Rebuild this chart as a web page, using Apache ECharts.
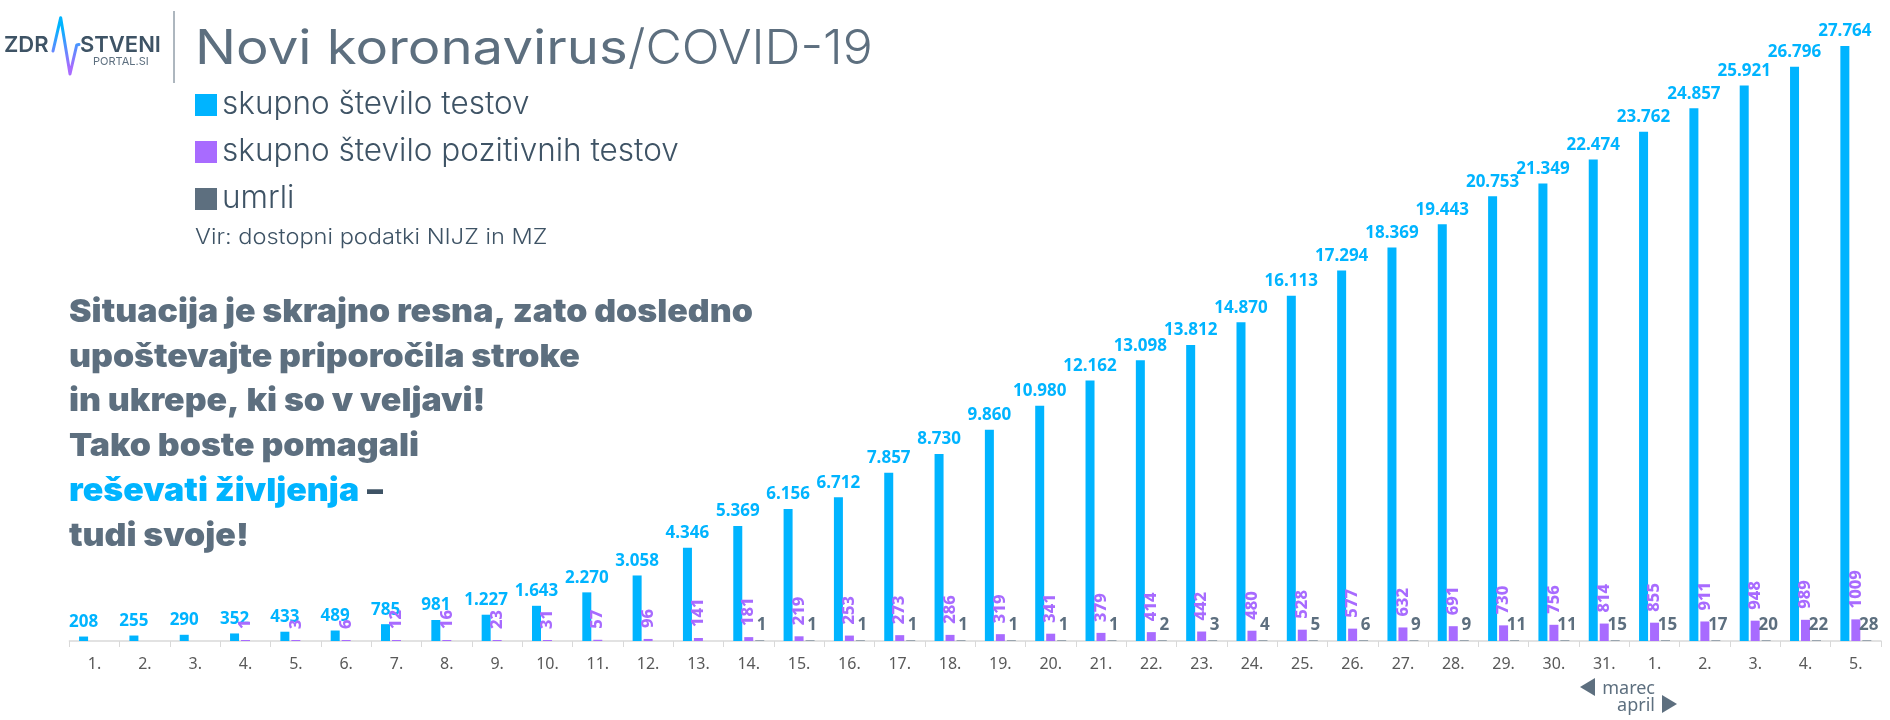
<!DOCTYPE html>
<html>
<head>
<meta charset="utf-8">
<title>Novi koronavirus/COVID-19</title>
<style>html,body{margin:0;padding:0;background:#fff}#main{width:1890px;height:720px}</style>
<script src="https://cdn.jsdelivr.net/npm/echarts@6/dist/echarts.min.js"></script>
</head>
<body>
<div id="main"></div>
<script>
// dnevi
var days = ['1.','2.','3.','4.','5.','6.','7.','8.','9.','10.','11.','12.','13.','14.','15.','16.','17.','18.','19.','20.','21.','22.','23.','24.','25.','26.','27.','28.','29.','30.','31.','1.','2.','3.','4.','5.'];
var tests = [208,255,290,352,433,489,785,981,1227,1643,2270,3058,4346,5369,6156,6712,7857,8730,9860,10980,12162,13098,13812,14870,16113,17294,18369,19443,20753,21349,22474,23762,24857,25921,26796,27764];
var positive = [null,null,null,1,3,6,12,16,23,31,57,96,141,181,219,253,273,286,319,341,379,414,442,480,528,577,632,691,730,756,814,855,911,948,989,1009];
var deaths = [null,null,null,null,null,null,null,null,null,null,null,null,null,1,1,1,1,1,1,1,1,2,3,4,5,6,9,9,11,11,15,15,17,20,22,28];

var names = ['skupno število testov','skupno število pozitivnih testov','umrli'];
var message = ['Situacija je skrajno resna, zato dosledno','upoštevajte priporočila stroke','in ukrepe, ki so v veljavi!','Tako boste pomagali'];

var BLUE = '#00B4FF', PURPLE = '#A86BFF', SLATE = '#5D6F7F', DARK = '#3E5365';
var FONT = 'Noto Sans', HEAD = 'Inter';

var myChart = echarts.init(document.getElementById('main'), null, {renderer: 'canvas'});

function dotted(p) {
    return String(p.value).replace(/\B(?=(\d{3})+(?!\d))/g, '.');
}
// stretch = sirina napisa, original font je sirsi od Inter
function text(x, y, str, size, color, weight, stretch, extra) {
    var style = {text: str, fill: color, fontFamily: HEAD, fontSize: size, fontWeight: weight, textVerticalAlign: 'middle'};
    for (var k in extra) style[k] = extra[k];
    return {type: 'text', silent: true, x: x, y: y, scaleX: stretch || 1, style: style};
}

var graphic = [
    // logo
    text(4, 45, 'ZDR', 22, DARK, 600),
    text(80, 45, 'STVENI', 22, DARK, 600),
    text(93, 62, 'PORTAL.SI', 11, SLATE, 400),
    {type: 'polyline', silent: true,
     shape: {points: [[53, 51], [60.7, 17.7], [70, 74], [76.7, 45], [79, 44.5]]},
     style: {fill: 'none', lineWidth: 3, lineJoin: 'round', lineCap: 'round',
        stroke: new echarts.graphic.LinearGradient(0, 0, 0, 1, [{offset: 0.2, color: BLUE}, {offset: 0.85, color: PURPLE}])}},
    {type: 'line', silent: true, shape: {x1: 174, y1: 11, x2: 174, y2: 83}, style: {stroke: SLATE, lineWidth: 1}},
    // naslov
    text(195, 50, 'Novi koronavirus', 48, SLATE, 400, 1.135),
    text(628, 50, '/COVID-19', 48, SLATE, 300, 1.04),
    text(195, 238, 'Vir: dostopni podatki NIJZ in MZ', 21, DARK, 300, 1.124),
    // marec / april
    {type: 'polygon', silent: true, shape: {points: [[1580, 687], [1595, 678], [1595, 696]]}, style: {fill: SLATE}},
    {type: 'polygon', silent: true, shape: {points: [[1677, 704], [1662, 695], [1662, 713]]}, style: {fill: SLATE}},
    text(1655, 689, 'marec', 18, SLATE, 400, 1, {fontFamily: FONT, textAlign: 'right'}),
    text(1655, 706, 'april', 18, SLATE, 400, 1, {fontFamily: FONT, textAlign: 'right'})
];
// sporocilo
var msgY = [312, 357, 401, 446];
message.forEach(function (line, i) {
    graphic.push(text(69, msgY[i], line, 32, SLATE, 900, 1.06));
});
graphic.push(text(69, 491, 'reševati življenja', 32, BLUE, 900, 1.06));
graphic.push(text(367, 491, '–', 32, DARK, 900, 1));
graphic.push(text(69, 536, 'tudi svoje!', 32, SLATE, 900, 1.06));

var option = {
    animation: false,
    backgroundColor: '#fff',
    graphic: graphic,
    legend: {
        data: [names[0], names[1], {name: names[2], itemStyle: {color: SLATE}}],
        orient: 'vertical',
        left: 195,
        top: 89,
        padding: 0,
        itemWidth: 22,
        itemHeight: 22,
        itemGap: 15,
        icon: 'rect',
        selectedMode: false,
        textStyle: {fontFamily: HEAD, fontSize: 31.5, fontWeight: 300, color: DARK}
    },
    grid: {left: 69.4, right: 9, top: 41, bottom: 79},
    xAxis: {
        type: 'category',
        data: days,
        axisLine: {lineStyle: {color: '#D9D9D9', width: 1.5}},
        axisTick: {show: true, length: 6, lineStyle: {color: '#D9D9D9', width: 1}},
        axisLabel: {interval: 0, margin: 15, color: '#595959', fontFamily: FONT, fontSize: 16}
    },
    yAxis: {type: 'value', min: 0, max: 28000, show: false, splitLine: {show: false}},
    series: [
        {
            name: names[0], type: 'bar', data: tests, barWidth: 9, barGap: '22%',
            itemStyle: {color: BLUE},
            label: {show: true, position: 'top', distance: 6, color: BLUE, fontFamily: FONT, fontWeight: 700, fontSize: 17, formatter: dotted}
        },
        {
            name: names[1], type: 'bar', data: positive, barWidth: 9, barMinHeight: 1,
            itemStyle: {color: PURPLE},
            label: {show: true, position: 'top', distance: 8, offset: [3, 0], rotate: 90, align: 'left', verticalAlign: 'middle', color: PURPLE, fontFamily: FONT, fontWeight: 800, fontSize: 16.5}
        },
        {
            name: names[2], type: 'bar', data: deaths, barWidth: 9, barMinHeight: 1,
            itemStyle: {color: '#9AA5AF'},
            label: {show: true, position: 'top', distance: 6, offset: [2, 0], color: SLATE, fontFamily: FONT, fontWeight: 700, fontSize: 17}
        }
    ]
};
myChart.setOption(option);
</script>
</body>
</html>
